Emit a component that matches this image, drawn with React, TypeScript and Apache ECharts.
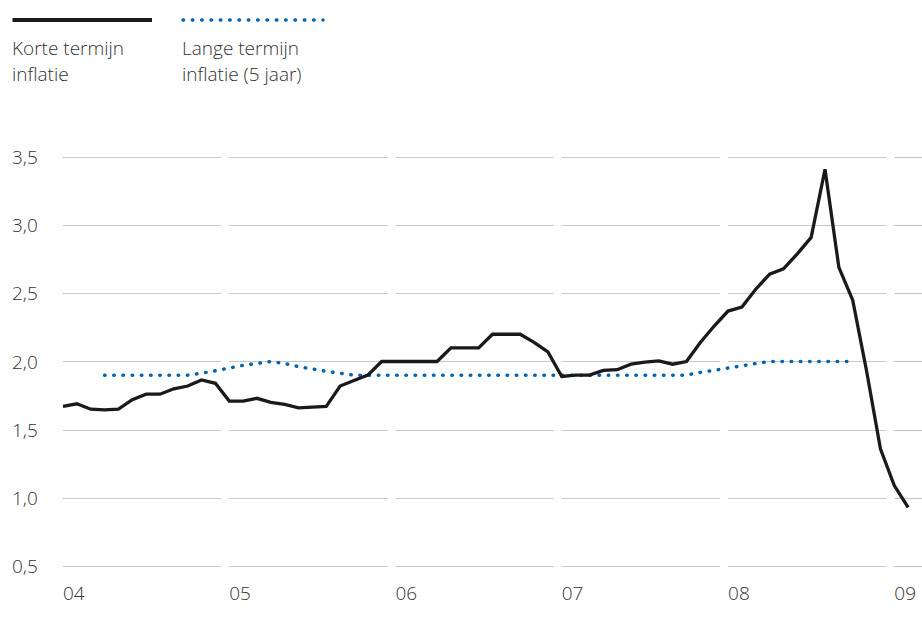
import React, { useEffect, useRef } from "react";
import * as echarts from "echarts";

// Months since January 2004 (0 = Jan 04)
const yearLabels = ["04", "05", "06", "07", "08", "09"];
const yearStarts = [0, 12, 24, 36, 48, 60];
const xMax = 62;
const yTicks = [0.5, 1.0, 1.5, 2.0, 2.5, 3.0, 3.5];

// Korte termijn inflatie (monthly, Jan 04 .. Feb 09)
const shortTerm = [
  1.67, 1.69, 1.65, 1.645, 1.65, 1.72, 1.76, 1.76, 1.8, 1.82, 1.865, 1.84,
  1.71, 1.71, 1.73, 1.7, 1.685, 1.66, 1.665, 1.67, 1.82, 1.86, 1.9, 2.0,
  2.0, 2.0, 2.0, 2.0, 2.1, 2.1, 2.1, 2.2, 2.2, 2.2, 2.14, 2.07,
  1.89, 1.9, 1.9, 1.935, 1.94, 1.98, 1.995, 2.005, 1.98, 2.0, 2.14, 2.26,
  2.37, 2.4, 2.53, 2.64, 2.68, 2.79, 2.91, 3.41, 2.69, 2.45, 1.93, 1.36,
  1.09, 0.93,
];

// Lange termijn inflatie (5 jaar), Apr 04 .. Oct 08
const longTermStart = 3;
const longTerm = [
  1.9, 1.9, 1.9, 1.9, 1.9, 1.9, 1.9, 1.914, 1.932, 1.952,
  1.972, 1.985, 2.0, 1.985, 1.962, 1.945, 1.928, 1.914, 1.9, 1.9,
  1.9, 1.9, 1.9, 1.9, 1.9, 1.9, 1.9, 1.9, 1.9, 1.9,
  1.9, 1.9, 1.9, 1.9, 1.9, 1.9, 1.9, 1.9, 1.9, 1.9,
  1.9, 1.9, 1.9, 1.92, 1.935, 1.952, 1.968, 1.985, 2.0, 2.0,
  2.0, 2.0, 2.0, 2.0, 2.0,
];

const legendShort = ["Korte termijn", "inflatie"];
const legendLong = ["Lange termijn", "inflatie (5 jaar)"];

const FONT = "'Open Sans', 'Liberation Sans', sans-serif";
const TEXT_COLOR = "#333333";
const BLACK = "#1a1a1a";
const BLUE = "#0063af";
const GRID = "#c8c8c8";
const FS = 19;

export default function App() {
  const ref = useRef<HTMLDivElement>(null);

  useEffect(() => {
    document.body.style.margin = "0";
    if (!ref.current) return;
    const chart = echarts.init(ref.current, null, { renderer: "svg" });

    const shortData = shortTerm.map((v, i) => [i, v]);
    const longData = longTerm.map((v, i) => [i + longTermStart, v]);

    const segs: number[][] = [];
    yTicks.forEach((y) => {
      yearStarts.forEach((s, i) => {
        const last = i === yearStarts.length - 1;
        const e = last ? xMax : yearStarts[i + 1];
        segs.push([s, e, y, last ? 1 : 0]);
      });
    });

    const legendText = (lines: string[], x: number) =>
      lines.map((t, i) => ({
        type: "text",
        x,
        y: 47.5 + i * 26.5,
        style: {
          text: t,
          fill: TEXT_COLOR,
          font: `300 ${FS}px ${FONT}`,
          lineHeight: 18,
          verticalAlign: "middle",
        },
      }));

    chart.setOption({
      animation: false,
      grid: { left: 63, right: 0, top: 157, bottom: 60, containLabel: false },
      xAxis: {
        type: "value",
        min: 0,
        max: xMax,
        interval: 12,
        axisLine: { show: false },
        axisTick: { show: false },
        splitLine: { show: false },
        axisLabel: {
          show: true,
          align: "left",
          margin: 17,
          color: TEXT_COLOR,
          fontFamily: FONT,
          fontSize: FS,
          fontWeight: 300,
          showMaxLabel: false,
          formatter: (v: number) =>
            v % 12 === 0 && yearLabels[v / 12] ? yearLabels[v / 12] : "",
        },
      },
      yAxis: {
        type: "value",
        min: 0.5,
        max: 3.5,
        interval: 0.5,
        axisLine: { show: false },
        axisTick: { show: false },
        splitLine: { show: false },
        axisLabel: {
          align: "left",
          margin: 51,
          color: TEXT_COLOR,
          fontFamily: FONT,
          fontSize: FS,
          fontWeight: 300,
          verticalAlign: "middle",
          padding: [0, 0, 12, 0],
          formatter: (v: number) => v.toFixed(1).replace(".", ","),
        },
      },
      graphic: [
        {
          type: "line",
          shape: { x1: 12.5, y1: 20, x2: 152, y2: 20 },
          style: { stroke: BLACK, lineWidth: 4 },
        },
        {
          type: "line",
          shape: { x1: 183, y1: 20, x2: 323, y2: 20 },
          style: {
            stroke: BLUE,
            lineWidth: 3.5,
            lineDash: [0.5, 8.83],
            lineCap: "round",
          },
        },
        ...legendText(legendShort, 12),
        ...legendText(legendLong, 182),
      ],
      series: [
        {
          type: "custom",
          name: "grid",
          silent: true,
          z: 1,
          clip: false,
          data: segs,
          encode: { x: [0, 1], y: 2 },
          renderItem: (params: any, api: any) => {
            const s = api.value(0);
            const e = api.value(1);
            const y = api.value(2);
            const last = api.value(3) === 1;
            const p1 = api.coord([s, y]);
            const p2 = api.coord([e, y]);
            const yy = Math.round(p1[1]) + 0.5;
            return {
              type: "line",
              shape: { x1: p1[0], y1: yy, x2: last ? p2[0] : p2[0] - 8, y2: yy },
              style: { stroke: GRID, lineWidth: 1.2 },
            };
          },
        },
        {
          type: "line",
          name: "Lange termijn inflatie (5 jaar)",
          data: longData,
          z: 2,
          showSymbol: false,
          symbol: "none",
          lineStyle: {
            color: BLUE,
            width: 3.5,
            type: [0.5, 8.7],
            cap: "round",
          },
        },
        {
          type: "line",
          name: "Korte termijn inflatie",
          data: shortData,
          z: 3,
          showSymbol: false,
          symbol: "none",
          lineStyle: { color: BLACK, width: 3.3, join: "miter" },
        },
      ],
    });

    return () => chart.dispose();
  }, []);

  return <div ref={ref} style={{ width: 922, height: 626 }} />;
}
